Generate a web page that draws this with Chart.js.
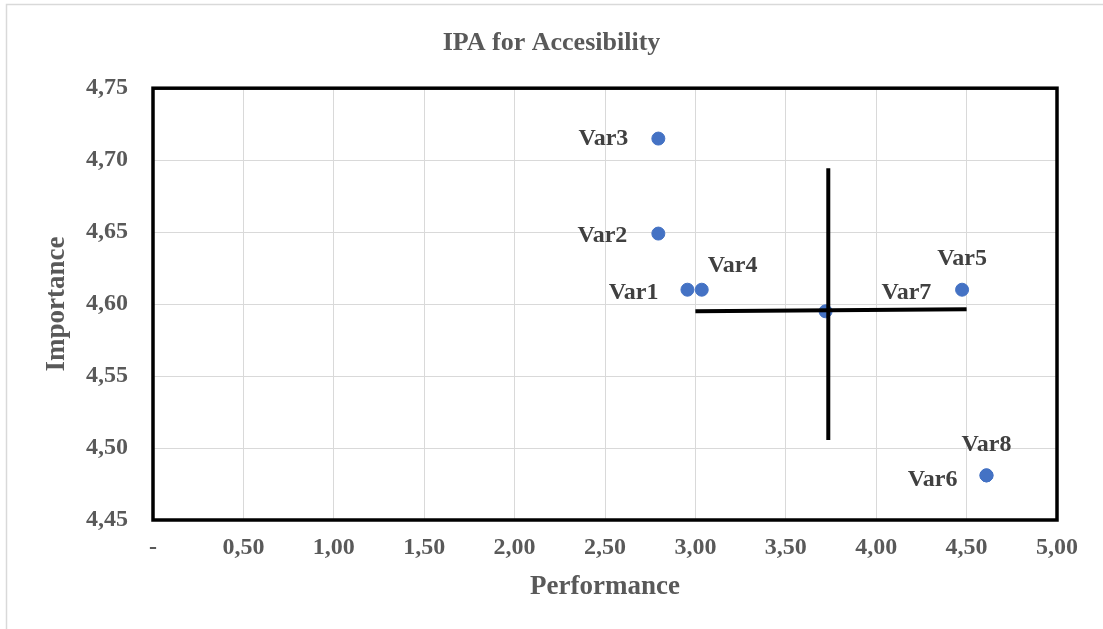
<!DOCTYPE html>
<html>
<head>
<meta charset="utf-8">
<title>IPA for Accesibility</title>
<script src="https://cdn.jsdelivr.net/npm/chart.js@4.4.1/dist/chart.umd.min.js"></script>
<style>
  html, body { margin: 0; padding: 0; background: #fff; }
  #ipa { display: block; }
</style>
</head>
<body>
<canvas id="ipa" width="1103" height="629"></canvas>
<script>
// variables: performance (x) vs importance (y)
const varNames = ["Var1", "Var2", "Var3", "Var4", "Var5", "Var6", "Var7", "Var8"];
const performance = [2.956, 2.795, 2.795, 3.035, 4.475, 4.61, 3.72, 4.61];
const importance = [4.61, 4.649, 4.715, 4.61, 4.61, 4.481, 4.595, 4.481];

// quadrant cross lines
const crossH = [{ x: 3.0, y: 4.5951 }, { x: 4.5, y: 4.5965 }];
const crossV = [{ x: 3.735, y: 4.6944 }, { x: 3.735, y: 4.5056 }];

// label placement around each point: dx, dy, align
const labelPos = {
  Var1: [-29, 3, "right"],
  Var2: [-31, 2, "right"],
  Var3: [-30, 0, "right"],
  Var4: [6, -24, "left"],
  Var5: [0, -31, "center"],
  Var6: [-29, 4, "right"],
  Var7: [56, -18, "left"],
  Var8: [0, -31, "center"]
};

const serif = "'Liberation Serif', 'Times New Roman', serif";
const greyText = "#595959";

const points = varNames.map((n, i) => ({ x: performance[i], y: importance[i] }));

const comma = v => (Math.round(v * 100) / 100).toFixed(2).replace(".", ",");

// page frame line on the left and top
const pageFrame = {
  id: "pageFrame",
  beforeDraw(chart) {
    const c = chart.ctx;
    c.save();
    c.fillStyle = "#fff";
    c.fillRect(0, 0, chart.width, chart.height);
    c.strokeStyle = "#d9d9d9";
    c.lineWidth = 1.5;
    c.beginPath();
    c.moveTo(6.5, chart.height);
    c.lineTo(6.5, 4.5);
    c.lineTo(chart.width, 4.5);
    c.stroke();
    c.restore();
  }
};

// thick black box round the plot area
const plotBox = {
  id: "plotBox",
  beforeDatasetsDraw(chart) {
    const a = chart.chartArea;
    const c = chart.ctx;
    c.save();
    c.strokeStyle = "#000";
    c.lineWidth = 3.5;
    c.strokeRect(a.left, a.top, a.right - a.left, a.bottom - a.top);
    c.restore();
  }
};

// text labels next to the points
const pointLabels = {
  id: "pointLabels",
  afterDatasetsDraw(chart) {
    const meta = chart.getDatasetMeta(2);
    const c = chart.ctx;
    c.save();
    c.font = "bold 24px " + serif;
    c.fillStyle = "#404040";
    c.textBaseline = "middle";
    meta.data.forEach((el, i) => {
      const p = labelPos[varNames[i]];
      c.textAlign = p[2];
      c.fillText(varNames[i], el.x + p[0], el.y + p[1]);
    });
    c.restore();
  }
};

new Chart(document.getElementById("ipa"), {
  type: "scatter",
  plugins: [pageFrame, plotBox, pointLabels],
  data: {
    datasets: [
      {
        data: crossH,
        showLine: true,
        borderColor: "#000",
        borderWidth: 4,
        pointRadius: 0
      },
      {
        data: crossV,
        showLine: true,
        borderColor: "#000",
        borderWidth: 4,
        pointRadius: 0
      },
      {
        data: points,
        backgroundColor: "#4472C4",
        borderColor: "#4472C4",
        pointRadius: 6.5,
        pointHoverRadius: 6.5
      }
    ]
  },
  options: {
    responsive: false,
    animation: false,
    layout: { padding: 0 },
    plugins: {
      legend: { display: false },
      tooltip: { enabled: false },
      title: {
        display: true,
        text: "IPA for Accesibility",
        color: greyText,
        font: { family: serif, size: 26, weight: "bold" },
        padding: { top: 28, bottom: 29 }
      }
    },
    scales: {
      x: {
        min: 0,
        max: 5,
        afterFit(scale) { scale.height = 109; },
        grid: { color: "#d9d9d9", drawTicks: false },
        border: { display: false },
        ticks: {
          stepSize: 0.5,
          padding: 13,
          color: greyText,
          font: { family: serif, size: 24, weight: "bold" },
          callback: v => (v === 0 ? "-" : comma(v))
        },
        title: {
          display: true,
          text: "Performance",
          color: greyText,
          font: { family: serif, size: 27, weight: "bold" },
          padding: { top: 0, bottom: 26 }
        }
      },
      y: {
        min: 4.45,
        max: 4.75,
        afterFit(scale) { scale.width = 153; },
        grid: { color: "#d9d9d9", drawTicks: false },
        border: { display: false },
        ticks: {
          stepSize: 0.05,
          padding: 25,
          color: greyText,
          font: { family: serif, size: 24, weight: "bold" },
          callback: v => comma(v)
        },
        title: {
          display: true,
          text: "Importance",
          color: greyText,
          font: { family: serif, size: 27, weight: "bold" },
          padding: { top: 41, bottom: 0 }
        }
      },
      // empty right-hand axis keeping the margin after the plot
      yRight: {
        position: "right",
        afterFit(scale) { scale.width = 46; },
        grid: { display: false },
        border: { display: false },
        ticks: { display: false }
      }
    }
  }
});
</script>
</body>
</html>
